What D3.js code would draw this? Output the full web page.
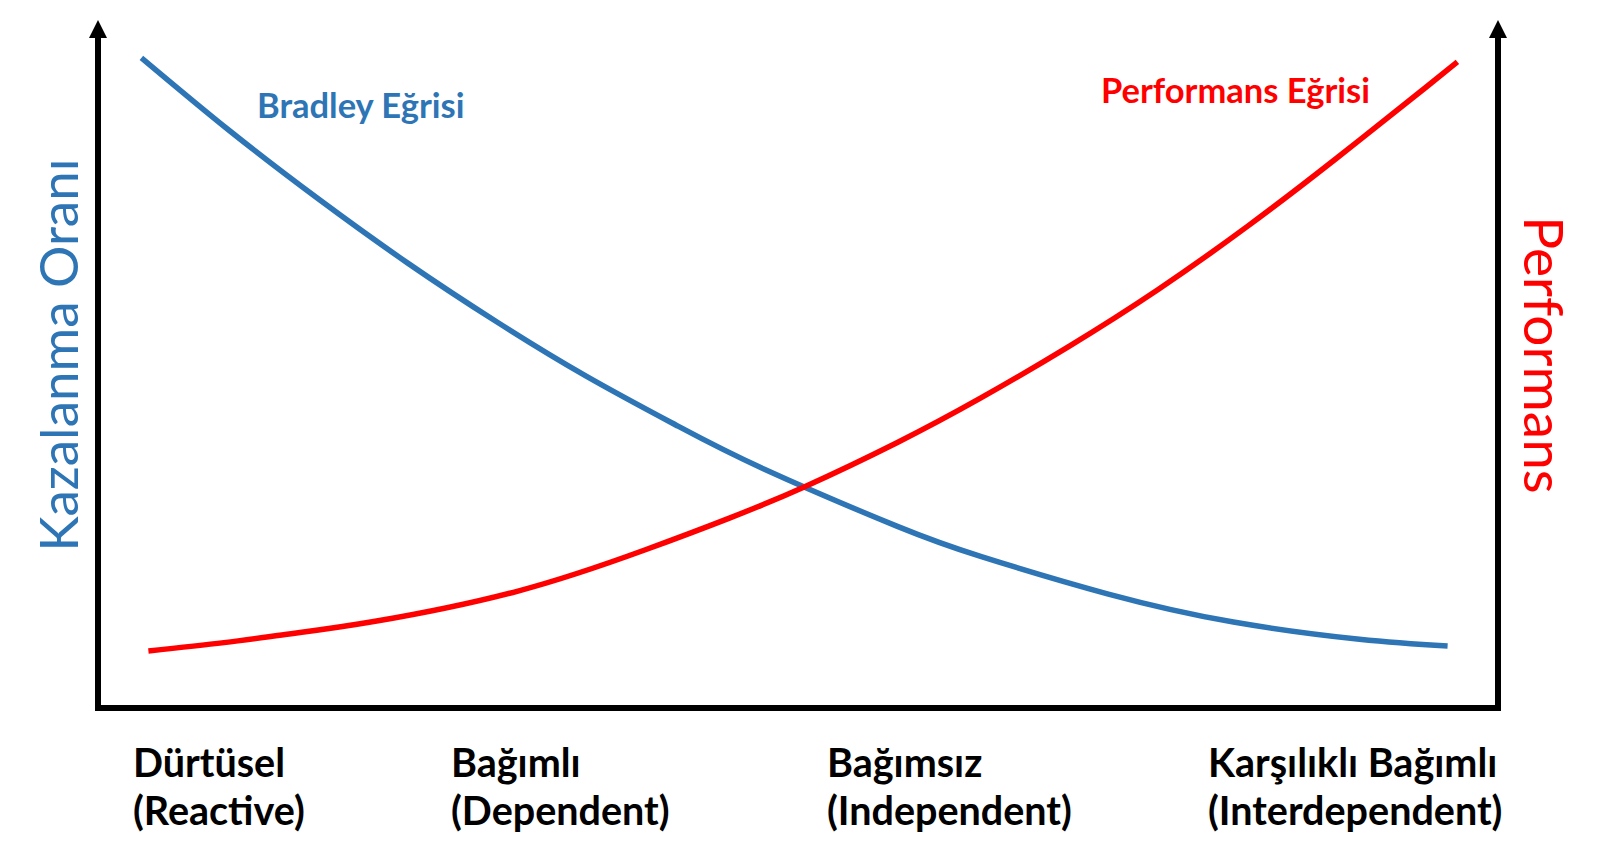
<!DOCTYPE html>
<html>
<head>
<meta charset="utf-8">
<script src="https://cdn.jsdelivr.net/npm/d3@7"></script>
<style>
  body { margin: 0; background: #fff; }
  text { font-family: Lato, "Open Sans", sans-serif; }
</style>
</head>
<body>
<svg width="1604" height="863"></svg>
<script>
  // stage categories along the x axis (two lines each)
  const stageNames = ['Dürtüsel', 'Bağımlı', 'Bağımsız', 'Karşılıklı Bağımlı'];
  const stageNamesEn = ['(Reactive)', '(Dependent)', '(Independent)', '(Interdependent)'];

  // curves (x: 0-100 along the axis, y: 0-100 up the axis)
  const bradleyX = [3.1, 9.4, 15.8, 22.1, 28.5, 34.9, 41.3, 47.6, 57.1, 63.1, 72.1, 81.1, 90.1, 96.4];
  const bradleyY = [94.5, 83.9, 73.9, 64.7, 56.1, 48.2, 41.1, 34.7, 26.4, 22.0, 16.6, 12.5, 10.0, 9.0];

  const perfX = [3.6, 9.0, 13.8, 19.8, 30.0, 39.1, 45.1, 50.4, 57.1, 63.0, 69.3, 75.7, 82.1, 88.4, 94.9, 97.1];
  const perfY = [8.3, 9.5, 10.8, 12.6, 17.0, 23.0, 27.6, 32.1, 38.6, 45.0, 52.5, 60.8, 70.0, 79.8, 90.3, 93.9];

  const blue = '#2E75B6';
  const red = '#FF0000';

  const svg = d3.select('svg');

  const xScale = d3.scaleLinear().domain([0, 100]).range([98, 1498]);
  const yScale = d3.scaleLinear().domain([0, 100]).range([708, 20]);

  const bradley = bradleyX.map((x, i) => ({ x, y: bradleyY[i] }));
  const perf = perfX.map((x, i) => ({ x, y: perfY[i] }));

  const line = d3.line()
    .x(d => xScale(d.x))
    .y(d => yScale(d.y))
    .curve(d3.curveNatural);

  // frame: left axis, bottom, right axis
  const x0 = xScale(0), x1 = xScale(100), yb = yScale(0), yt = yScale(100);
  svg.append('path')
      .attr('d', `M${x0},${yt + 16} L${x0},${yb} L${x1},${yb} L${x1},${yt + 16}`)
      .attr('fill', 'none')
      .attr('stroke', '#000')
      .attr('stroke-width', 6)
      .attr('stroke-linejoin', 'miter');

  [x0, x1].forEach(x => {
    svg.append('path')
        .attr('d', `M${x},${yt} L${x - 9},${yt + 18} L${x + 9},${yt + 18} Z`)
        .attr('fill', '#000');
  });

  svg.append('path')
      .datum(bradley)
      .attr('d', line)
      .attr('fill', 'none')
      .attr('stroke', blue)
      .attr('stroke-width', 5.5);

  svg.append('path')
      .datum(perf)
      .attr('d', line)
      .attr('fill', 'none')
      .attr('stroke', red)
      .attr('stroke-width', 5.5);

  // curve labels
  svg.append('text')
      .attr('x', 257)
      .attr('y', 118)
      .attr('fill', blue)
      .attr('font-weight', 'bold')
      .attr('font-size', 34.5)
      .text('Bradley Eğrisi');

  svg.append('text')
      .attr('x', 1101)
      .attr('y', 103)
      .attr('fill', red)
      .attr('font-weight', 'bold')
      .attr('font-size', 34.5)
      .text('Performans Eğrisi');

  // axis titles
  svg.append('text')
      .attr('transform', 'translate(78,355) rotate(-90)')
      .attr('text-anchor', 'middle')
      .attr('fill', blue)
      .attr('font-size', 53)
      .text('Kazalanma Oranı');

  svg.append('text')
      .attr('transform', 'translate(1524,355) rotate(90)')
      .attr('text-anchor', 'middle')
      .attr('fill', red)
      .attr('font-size', 55)
      .text('Performans');

  // stage labels under the axis
  const labelLeft = [133, 451, 827, 1208];
  const stages = svg.selectAll('.stage').data(stageNames)
    .enter().append('text')
      .attr('class', 'stage')
      .attr('x', (d, i) => labelLeft[i])
      .attr('y', 777)
      .attr('font-weight', 'bold')
      .attr('font-size', 39.5)
      .attr('fill', '#000');

  stages.append('tspan')
      .attr('x', (d, i) => labelLeft[i])
      .text(d => d);

  stages.append('tspan')
      .attr('x', (d, i) => labelLeft[i])
      .attr('dy', 48)
      .text((d, i) => stageNamesEn[i]);
</script>
</body>
</html>
